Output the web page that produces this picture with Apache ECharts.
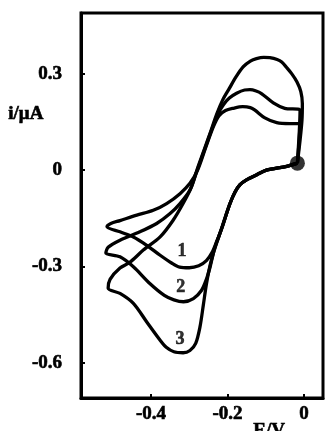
<!DOCTYPE html>
<html>
<head>
<meta charset="utf-8">
<script src="https://cdn.jsdelivr.net/npm/echarts@6/dist/echarts.min.js"></script>
<style>html,body{margin:0;padding:0;background:#fff}#c{width:325px;height:431px}</style>
</head>
<body>
<div id="c"></div>
<script>
// ---- data (E in V, i in µA) ----
const xTicks = [-0.4, -0.2, 0];
const yTicks = [-0.6, -0.3, 0, 0.3];
const startPoint = [[-0.017, 0.022]];
const curve1 = [[-0.017,0.022],[-0.045,0.012],[-0.098,0.000],[-0.123,-0.014],[-0.150,-0.030],[-0.167,-0.045],[-0.180,-0.068],[-0.193,-0.103],[-0.205,-0.145],[-0.216,-0.185],[-0.228,-0.222],[-0.240,-0.256],[-0.255,-0.282],[-0.275,-0.298],[-0.300,-0.304],[-0.325,-0.302],[-0.345,-0.290],[-0.376,-0.265],[-0.411,-0.234],[-0.446,-0.208],[-0.481,-0.192],[-0.515,-0.176],[-0.505,-0.166],[-0.481,-0.157],[-0.437,-0.140],[-0.394,-0.125],[-0.359,-0.104],[-0.324,-0.073],[-0.298,-0.041],[-0.278,0.000],[-0.257,0.070],[-0.237,0.135],[-0.222,0.170],[-0.205,0.186],[-0.185,0.193],[-0.160,0.198],[-0.140,0.195],[-0.128,0.187],[-0.102,0.163],[-0.071,0.148],[-0.037,0.145],[-0.010,0.145],[-0.012,0.100],[-0.015,0.050],[-0.017,0.022]];
const curve2 = [[-0.017,0.022],[-0.045,0.012],[-0.098,0.000],[-0.123,-0.014],[-0.150,-0.030],[-0.167,-0.045],[-0.180,-0.068],[-0.193,-0.103],[-0.205,-0.145],[-0.216,-0.185],[-0.228,-0.225],[-0.236,-0.255],[-0.245,-0.300],[-0.255,-0.340],[-0.268,-0.375],[-0.289,-0.400],[-0.315,-0.410],[-0.340,-0.404],[-0.365,-0.390],[-0.403,-0.353],[-0.446,-0.301],[-0.481,-0.270],[-0.518,-0.258],[-0.512,-0.240],[-0.481,-0.218],[-0.429,-0.192],[-0.385,-0.166],[-0.350,-0.135],[-0.324,-0.104],[-0.298,-0.062],[-0.279,0.000],[-0.258,0.070],[-0.240,0.130],[-0.225,0.175],[-0.210,0.205],[-0.195,0.225],[-0.176,0.240],[-0.155,0.250],[-0.141,0.251],[-0.125,0.247],[-0.111,0.239],[-0.080,0.210],[-0.050,0.193],[-0.010,0.187],[-0.012,0.120],[-0.015,0.060],[-0.017,0.022]];
const curve3 = [[-0.017,0.022],[-0.045,0.012],[-0.098,0.000],[-0.123,-0.014],[-0.150,-0.030],[-0.167,-0.045],[-0.180,-0.068],[-0.193,-0.103],[-0.205,-0.145],[-0.216,-0.185],[-0.228,-0.225],[-0.236,-0.255],[-0.246,-0.300],[-0.255,-0.355],[-0.263,-0.420],[-0.272,-0.490],[-0.283,-0.540],[-0.298,-0.562],[-0.316,-0.569],[-0.340,-0.566],[-0.360,-0.552],[-0.376,-0.530],[-0.411,-0.473],[-0.446,-0.415],[-0.481,-0.384],[-0.512,-0.368],[-0.507,-0.340],[-0.481,-0.305],[-0.455,-0.287],[-0.420,-0.249],[-0.376,-0.208],[-0.342,-0.156],[-0.316,-0.104],[-0.294,-0.052],[-0.280,0.000],[-0.262,0.060],[-0.244,0.120],[-0.228,0.175],[-0.212,0.220],[-0.195,0.255],[-0.178,0.290],[-0.159,0.322],[-0.140,0.340],[-0.124,0.348],[-0.105,0.352],[-0.089,0.351],[-0.070,0.345],[-0.058,0.337],[-0.045,0.320],[-0.032,0.301],[-0.018,0.275],[-0.008,0.245],[-0.004,0.208],[-0.005,0.156],[-0.010,0.093],[-0.017,0.022]];
const curveLabels = ['1', '2', '3'];
const curveLabelPos = [[-0.319,-0.252],[-0.322,-0.366],[-0.324,-0.527]];
const xName = 'E/V';
const yName = 'i/\u03bcA';

const font = 'Liberation Serif';
const chart = echarts.init(document.getElementById('c'), null, {renderer: 'canvas'});
const lineStyle = {color: '#000', width: 3.3};
const mkLine = (d) => ({type: 'line', data: d, showSymbol: false, symbol: 'none', smooth: 0.3, lineStyle: lineStyle, silent: true, z: 3});
const txt = {color: '#000', fontFamily: font, fontWeight: 'bold', fontSize: 19, textBorderColor: '#000', textBorderWidth: 0.6};
chart.setOption({
  animation: false,
  backgroundColor: '#fff',
  grid: {left: 81, right: 2, top: 13, bottom: 33, show: true, borderColor: '#000', borderWidth: 3, backgroundColor: 'transparent'},
  xAxis: {
    type: 'value', min: -0.583, max: 0.05,
    axisLine: {show: true, onZero: false, lineStyle: {color: '#000', width: 3}},
    axisTick: {show: true, inside: true, length: 4, customValues: xTicks, lineStyle: {color: '#000', width: 2}},
    axisLabel: Object.assign({customValues: xTicks, margin: 7,
      formatter: v => v === 0 ? '0' : v.toFixed(1)}, txt),
    splitLine: {show: false}
  },
  yAxis: {
    type: 'value', min: -0.71, max: 0.49,
    axisLine: {show: true, onZero: false, lineStyle: {color: '#000', width: 3}},
    axisTick: {show: true, inside: true, length: 4, customValues: yTicks, lineStyle: {color: '#000', width: 2}},
    axisLabel: Object.assign({customValues: yTicks, margin: 19,
      formatter: v => v === 0 ? '0' : v.toFixed(1)}, txt),
    splitLine: {show: false}
  },
  graphic: [
    {type: 'text', left: 8, top: 104, style: {text: yName, fill: '#000', stroke: '#000', lineWidth: 0.6, font: 'bold 19px "Liberation Serif"'}},
    {type: 'text', left: 253, top: 421, style: {text: xName, fill: '#000', stroke: '#000', lineWidth: 0.6, font: 'bold 19px "Liberation Serif"'}}
  ],
  series: [
    mkLine(curve1), mkLine(curve2), mkLine(curve3),
    {type: 'scatter', data: startPoint, symbol: 'circle', symbolSize: 15, itemStyle: {color: '#000'}, silent: true, z: 4},
    {type: 'scatter', data: curveLabelPos.map((p, k) => ({value: p, name: curveLabels[k]})), symbolSize: 0, silent: true, z: 5,
      label: Object.assign({show: true, position: 'inside', formatter: p => p.name}, txt, {fontSize: 18})}
  ]
});
</script>
</body>
</html>
